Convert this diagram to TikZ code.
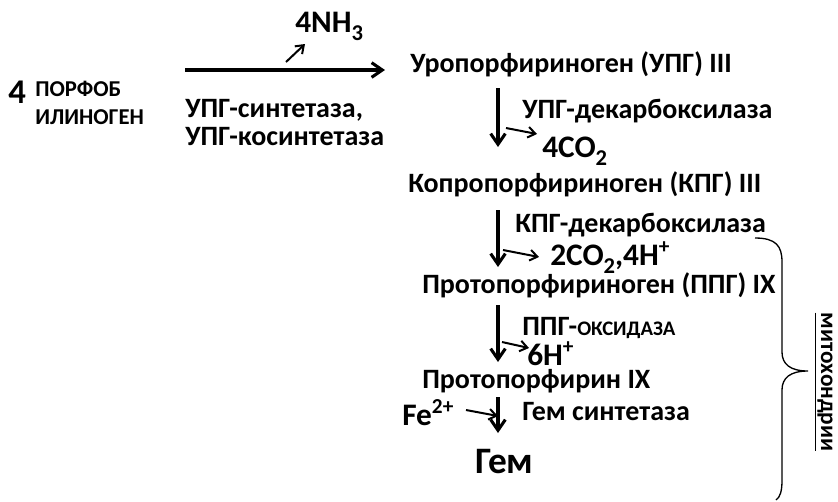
\documentclass[tikz,border=0pt]{standalone}
\usepackage{fontspec}
\setmainfont{Carlito}
\usetikzlibrary{arrows.meta}
\newcommand\lo[1]{\raisebox{-0.26em}{\scalebox{0.72}{#1}}}
\newcommand\hi[1]{\raisebox{0.36em}{\scalebox{0.68}{#1}}}

\begin{document}
\begin{tikzpicture}[x=0.75pt,y=-0.75pt,
  txt/.style={anchor=base west,inner sep=0pt,font=\bfseries\fontsize{21}{21}\selectfont},
  big/.style={txt,font=\bfseries\fontsize{23.5}{24}\selectfont},
  rx/.style={-{Straight Barb[length=8pt,width=11pt]},line width=2.3pt},
  sm/.style={-{Straight Barb[length=5.5pt,width=8pt]},line width=1.5pt}]
\useasboundingbox (0,0) rectangle (838,501);

% substrate
\node[txt,font=\bfseries\fontsize{26}{30}\selectfont] (four) at (8,103) {4};
\node[anchor=north west,inner sep=0pt,align=left,font=\bfseries\fontsize{17}{21}\selectfont] (pbg) at (35,81) {ПОРФОБ\\ИЛИНОГЕН};

% first step
\coordinate (m1) at (185,70);
\coordinate (m2) at (385,70);
\draw[rx] (m1) -- (m2);
\node[big] (nh3) at (295,32) {4NH\lo{3}};
\coordinate (n1) at (286,62);
\coordinate (n2) at (305,44);
\draw[sm] (n1) -- (n2);
\node[anchor=north west,inner sep=0pt,align=left,font=\bfseries\fontsize{21}{21}\selectfont] (syn) at (185,99) {УПГ-синтетаза,\\УПГ-косинтетаза};

% pathway
\node[txt] (uro) at (410,72) {Уропорфириноген (УПГ) III};
\node[txt] (copro) at (408,192) {Копропорфириноген (КПГ) III};
\node[txt] (proto) at (422,293) {Протопорфириноген (ППГ) IX};
\node[txt] (pp) at (422,388) {Протопорфирин IX};
\node[txt,font=\bfseries\fontsize{28}{30}\selectfont] (heme) at (475,473) {Гем};

\coordinate (a1) at (498,88);
\coordinate (b1) at (498,147);
\coordinate (a2) at (498,210);
\coordinate (b2) at (498,267);
\coordinate (a3) at (498,305);
\coordinate (b3) at (498,362);
\coordinate (a4) at (498,397);
\coordinate (b4) at (498,433);
\draw[rx] (a1) -- (b1);
\draw[rx] (a2) -- (b2);
\draw[rx] (a3) -- (b3);
\draw[rx] (a4) -- (b4);

% enzymes and side products
\node[txt] (e1) at (522,118) {УПГ-декарбоксилаза};
\node[big] (co1) at (542,157) {4CO\lo{2}};
\coordinate (s1) at (506,128);
\coordinate (t1) at (537,134);
\draw[sm] (s1) -- (t1);

\node[txt] (e2) at (515,232) {КПГ-декарбоксилаза};
\node[big] (co2) at (550,265) {2CO\lo{2},4H\hi{+}};
\coordinate (s2) at (503,250);
\coordinate (t2) at (539,257);
\draw[sm] (s2) -- (t2);

\node[txt] (e3) at (522,335) {ППГ-{\fontsize{15.5}{16}\selectfont ОКСИДАЗА}};
\node[big] (hp) at (527,365) {6H\hi{+}};
\coordinate (s3) at (502,342);
\coordinate (t3) at (529,348);
\draw[sm] (s3) -- (t3);

\node[big] (fe) at (402,425) {Fe\hi{2+}};
\node[txt] (e4) at (522,420) {Гем синтетаза};
\coordinate (s4) at (466,410);
\coordinate (t4) at (498,416);
\draw[sm] (s4) -- (t4);

% mitochondria
\draw[line width=1pt] (755,238) .. controls (776,238) and (782,246) .. (782,262)
  -- (782,352) .. controls (782,364) and (790,371) .. (808,371)
  .. controls (790,371) and (782,378) .. (782,390)
  -- (782,480) .. controls (782,492) and (780,497) .. (776,500);
\node[txt,anchor=base,rotate=-90,font=\bfseries\fontsize{17.5}{18}\selectfont] (mito) at (821,382) {\underline{митохондрии}};
\end{tikzpicture}
\end{document}
